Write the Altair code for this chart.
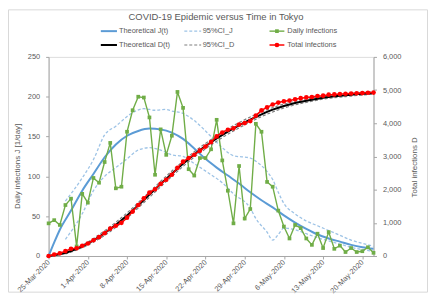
import altair as alt
import pandas as pd

# ---------------- data ----------------
start = pd.Timestamp("2020-03-25")

daily_infections = [41, 45, 39, 64, 72, 12, 78, 67, 98, 92,
                    118, 142, 85, 87, 156, 183, 200, 199, 174, 102,
                    159, 127, 151, 206, 186, 109, 101, 123, 123, 134,
                    171, 120, 82, 41, 113, 47, 59, 166, 156, 93,
                    87, 57, 37, 22, 39, 35, 22, 14, 28, 10,
                    30, 9, 13, 5, 10, 5, 6, 11, 4]

total_infections = [0, 45, 84, 148, 220, 232, 310, 377, 475, 567,
                    685, 827, 912, 999, 1155, 1338, 1538, 1737, 1911, 2013,
                    2172, 2299, 2450, 2656, 2842, 2951, 3052, 3175, 3298, 3432,
                    3603, 3723, 3805, 3846, 3959, 4006, 4065, 4231, 4387, 4480,
                    4567, 4624, 4661, 4683, 4722, 4757, 4779, 4793, 4821, 4831,
                    4861, 4870, 4883, 4888, 4898, 4903, 4909, 4920, 4924]

theory_j_days = [0, 1, 2, 4, 6, 8, 10, 12, 14, 16, 18, 20, 22, 24, 26, 28, 30,
                 32, 34, 36, 38, 40, 42, 44, 46, 48, 50, 52, 54, 56, 58]
theory_j = [0, 17, 33, 57, 82, 103, 124, 140, 151, 157, 160, 159, 155, 147, 135,
            122, 111, 101, 91, 80, 70, 61, 51, 42, 34, 27, 22, 18, 14, 11, 9]

ci_j_upper_days = [3, 6, 8, 10, 12, 15, 17, 19, 21, 22, 24, 26, 29, 31, 33, 36,
                   37, 39, 40, 41, 42, 44, 46, 48, 50, 52, 54, 56, 58]
ci_j_upper = [69, 98, 121, 152, 163, 180, 185, 183, 184, 182, 179, 170, 150, 136,
              126, 123, 119, 106, 96, 80, 66, 53, 44, 38, 32, 26, 20, 16, 12]

ci_j_lower_days = [3, 6, 8, 10, 12, 14, 16, 18, 20, 22, 24, 26, 29, 31, 33, 36,
                   37, 39, 40, 41, 42, 44, 46, 48, 50, 52, 54, 56, 58]
ci_j_lower = [21, 53, 82, 100, 111, 122, 133, 136, 133, 127, 125, 116, 102, 92,
              78, 60, 47, 30, 20, 27, 35, 33, 28, 23, 19, 15, 11, 8, 6]

theory_d_days = list(range(0, 59, 2))
theory_d = [0, 50, 150, 290, 470, 690, 940, 1220, 1530, 1850,
            2170, 2480, 2780, 3060, 3310, 3540, 3750, 3940, 4110, 4270,
            4410, 4520, 4610, 4680, 4740, 4790, 4830, 4860, 4890, 4915]

ci_d_days = [3, 6, 10, 14, 18, 22, 26, 30, 34, 38, 42, 46, 50, 54, 58]
ci_d_upper = [120, 330, 760, 1300, 1930, 2560, 3140, 3620, 4020, 4340, 4580,
              4730, 4830, 4900, 4950]
ci_d_lower = [60, 250, 620, 1140, 1770, 2400, 2980, 3460, 3860, 4200, 4460,
              4630, 4750, 4820, 4880]

tick_dates = [(3, 25), (4, 1), (4, 8), (4, 15), (4, 22), (4, 29),
              (5, 6), (5, 13), (5, 20)]

title_text = "COVID-19 Epidemic versus Time in Tokyo"
legend_labels = ["Theoretical J(t)", "95%CI_J", "Daily infections",
                 "Theoretical D(t)", "95%CI_D", "Total infections"]

# ---------------- styling ----------------
FONT = "Liberation Sans"
TXT = "#595959"
BLUE = "#5B9BD5"
LBLUE = "#9DC3E6"
GREEN = "#70AD47"
RED = "#FF0000"
GRAY = "#7F7F7F"
AX = "#A6A6A6"

W, H = 328, 201


def frame(days, values):
    return pd.DataFrame({"date": [start + pd.Timedelta(days=d) for d in days],
                         "value": values})


all_days = list(range(len(daily_infections)))
df_daily = frame(all_days, daily_infections)
df_total = frame(all_days, total_infections)
df_j = frame(theory_j_days, theory_j)
df_jup = frame(ci_j_upper_days, ci_j_upper)
df_jlo = frame(ci_j_lower_days, ci_j_lower)
df_d = frame(theory_d_days, theory_d)
df_dup = frame(ci_d_days, ci_d_upper)
df_dlo = frame(ci_d_days, ci_d_lower)

x_enc = alt.X(
    "date:T",
    scale=alt.Scale(domain=[alt.DateTime(year=2020, month=3, date=25),
                            alt.DateTime(year=2020, month=5, date=22)]),
    axis=alt.Axis(
        values=[alt.DateTime(year=2020, month=m, date=d) for m, d in tick_dates],
        format="%-d-%b-%Y", labelAngle=-45, labelAlign="right",
        labelBaseline="middle", title=None, grid=False,
        labelFont=FONT, labelFontSize=7.5, labelColor=TXT,
        domainColor=AX, tickColor=AX, tickSize=3, labelPadding=2,
        labelFlush=False, labelOverlap=False, labelBound=False),
)

y_left = alt.Y(
    "value:Q",
    scale=alt.Scale(domain=[0, 250], nice=False),
    axis=alt.Axis(values=[0, 50, 100, 150, 200, 250], grid=False,
                  title="Daily infections J [1/day]",
                  titleFont=FONT, titleFontSize=8, titleFontWeight="normal",
                  titleColor=TXT, titleX=-31, titleY=110, titleAngle=270,
                  titleAlign="center", titleBaseline="middle",
                  labelFont=FONT, labelFontSize=7.5, labelColor=TXT,
                  domainColor=AX, tickColor=AX, tickSize=3, labelPadding=6),
)

y_right = alt.Y(
    "value:Q",
    scale=alt.Scale(domain=[0, 6000], nice=False),
    axis=alt.Axis(orient="right", values=[0, 1000, 2000, 3000, 4000, 5000, 6000],
                  format=",.0f", grid=False, title="Total infections D",
                  titleFont=FONT, titleFontSize=8, titleFontWeight="normal",
                  titleColor=TXT, titleX=41, titleY=111, titleAngle=270,
                  titleAlign="center", titleBaseline="middle",
                  labelFont=FONT, labelFontSize=7.5, labelColor=TXT,
                  domainColor=AX, tickColor=AX, tickSize=3, labelPadding=6),
)

dash = [3, 2]

left = alt.layer(
    alt.Chart(df_jup).mark_line(color=LBLUE, strokeWidth=1.3, strokeDash=dash,
                                interpolate="monotone").encode(x=x_enc, y=y_left),
    alt.Chart(df_jlo).mark_line(color=LBLUE, strokeWidth=1.3, strokeDash=dash,
                                interpolate="monotone").encode(x=x_enc, y=y_left),
    alt.Chart(df_j).mark_line(color=BLUE, strokeWidth=2,
                              interpolate="monotone").encode(x=x_enc, y=y_left),
    alt.Chart(df_daily).mark_line(color=GREEN, strokeWidth=1.4).encode(x=x_enc, y=y_left),
    alt.Chart(df_daily).mark_point(shape="square", filled=True, color=GREEN,
                                   size=14, opacity=1).encode(x=x_enc, y=y_left),
)

right = alt.layer(
    alt.Chart(df_dup).mark_line(color=GRAY, strokeWidth=1.2, strokeDash=dash,
                                interpolate="monotone").encode(x=x_enc, y=y_right),
    alt.Chart(df_dlo).mark_line(color=GRAY, strokeWidth=1.2, strokeDash=dash,
                                interpolate="monotone").encode(x=x_enc, y=y_right),
    alt.Chart(df_d).mark_line(color="#000000", strokeWidth=2,
                              interpolate="monotone").encode(x=x_enc, y=y_right),
    alt.Chart(df_total).mark_line(color=RED, strokeWidth=1.5).encode(x=x_enc, y=y_right),
    alt.Chart(df_total).mark_point(shape="circle", filled=True, color=RED,
                                   size=22, opacity=1).encode(x=x_enc, y=y_right),
)

# ---------------- title, legend, chart frame ----------------
one = pd.DataFrame({"k": [0]})

title = alt.Chart(one).mark_text(font=FONT, fontSize=9.5, color=TXT,
                                 align="center", baseline="middle").encode(
    x=alt.value(169), y=alt.value(-40), text=alt.value(title_text))

col_sym = [(52.7, 69), (137, 154), (223, 238)]
col_lab = [71, 155.5, 241]
row_y = [-26, -12]
line_styles = [
    dict(color=BLUE, strokeWidth=2),
    dict(color=LBLUE, strokeWidth=1.3, strokeDash=dash),
    dict(color=GREEN, strokeWidth=1.4),
    dict(color="#000000", strokeWidth=2),
    dict(color=GRAY, strokeWidth=1.2, strokeDash=dash),
    dict(color=RED, strokeWidth=1.5),
]

legend_layers = []
for i, lab in enumerate(legend_labels):
    r, c = divmod(i, 3)
    x1, x2 = col_sym[c]
    legend_layers.append(
        alt.Chart(one).mark_rule(**line_styles[i]).encode(
            x=alt.value(x1), x2=alt.value(x2), y=alt.value(row_y[r])))
    legend_layers.append(
        alt.Chart(one).mark_text(font=FONT, fontSize=7.5, color=TXT, align="left",
                                 baseline="middle").encode(
            x=alt.value(col_lab[c]), y=alt.value(row_y[r]), text=alt.value(lab)))

legend_layers.append(
    alt.Chart(one).mark_point(shape="square", filled=True, color=GREEN, size=14,
                              opacity=1).encode(x=alt.value(230.5), y=alt.value(row_y[0])))
legend_layers.append(
    alt.Chart(one).mark_point(shape="circle", filled=True, color=RED, size=22,
                              opacity=1).encode(x=alt.value(230.5), y=alt.value(row_y[1])))

border = alt.Chart(one).mark_rect(fillOpacity=0, stroke="#D9D9D9", strokeWidth=1).encode(
    x=alt.value(-40.5), x2=alt.value(382.5), y=alt.value(-47.5), y2=alt.value(237.5))

chart = alt.layer(
    border, left, right, title, *legend_layers
).resolve_scale(y="independent").properties(
    width=W, height=H,
    autosize=alt.AutoSizeParams(type="none"),
    padding={"left": 41, "top": 48, "right": 55, "bottom": 37},
).configure_view(stroke="#D9D9D9").configure(background="white")

chart.save("out.html", embed_options={"renderer": "svg", "actions": False})
